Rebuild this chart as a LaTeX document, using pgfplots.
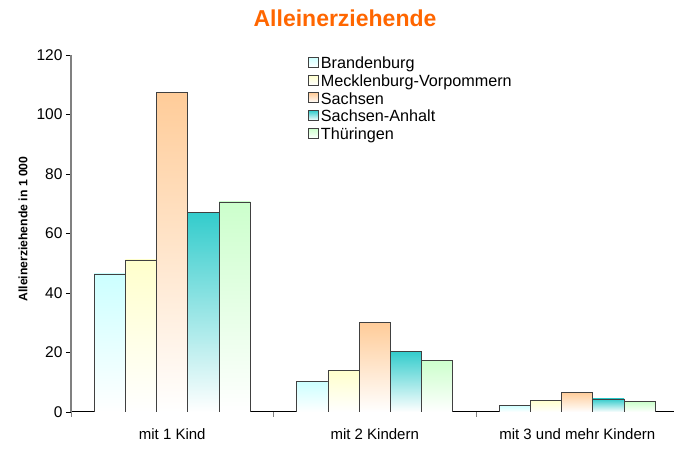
\documentclass[border=0pt]{standalone}
\usepackage{pgfplots}
\pgfplotsset{compat=1.18}
\usepackage{fontspec}
\setmainfont{Liberation Sans}
\definecolor{cBra}{HTML}{CCFFFF}
\definecolor{cMV}{HTML}{FFFFCC}
\definecolor{cSN}{HTML}{FFCC99}
\definecolor{cST}{HTML}{33CCCC}
\definecolor{cTH}{HTML}{CCFFCC}
\definecolor{cTitle}{HTML}{FF6600}
\pgfplotsset{
  sBra/.style={ybar, bar shift=-0.3082, top color=cBra, bottom color=white},
  sMV/.style={ybar, bar shift=-0.1541, top color=cMV, bottom color=white},
  sSN/.style={ybar, bar shift=0, top color=cSN, bottom color=white},
  sST/.style={ybar, bar shift=0.1541, top color=cST, bottom color=white},
  sTH/.style={ybar, bar shift=0.3082, top color=cTH, bottom color=white},
}
\begin{document}
\begin{tikzpicture}
\useasboundingbox (0,0) rectangle (674pt,452pt);
\begin{axis}[
  at={(71pt,40pt)}, anchor=south west,
  scale only axis, width=603pt, height=357pt,
  xmin=-0.5, xmax=2.4778, ymin=0, ymax=120,
  bar width=0.1541,
  ytick={0,20,...,120},
  xtick={0,1,2},
  xticklabels={mit 1 Kind, mit 2 Kindern, mit 3 und mehr Kindern},
  minor xtick={-0.5,0.5,1.5},
  major x tick style={draw=none},
  minor x tick style={gray, line width=1pt},
  y tick style={black, line width=0.8pt},
  tick align=outside,
  major tick length=5pt, minor tick length=5pt,
  axis x line*=bottom, axis y line*=left,
  x axis line style={-, black, line width=1pt},
  y axis line style={-, gray, line width=1.3pt},
  /pgf/number format/assume math mode=true,
  yticklabel style={font=\fontsize{15.5}{18}\selectfont, anchor=east},
  xticklabel style={font=\fontsize{15}{18}\selectfont, anchor=base, yshift=-22pt},
  title={Alleinerziehende},
  title style={at={(axis description cs:0.4544,1.0644)}, anchor=base, font=\fontsize{23}{26}\selectfont\bfseries, text=cTitle},
  ylabel={Alleinerziehende in 1 000},
  ylabel style={at={(axis description cs:-0.0796,0.5126)}, anchor=center, rotate=0, font=\fontsize{12.2}{14}\selectfont\bfseries},
  legend cell align=left,
  legend style={at={(axis description cs:0.3922,0.9978)}, anchor=north west, draw=none, fill=none,
    inner sep=0pt, row sep=1.3pt, font=\fontsize{16.2}{18}\selectfont,
    nodes={inner sep=0.5pt, text height=12pt, text depth=3.5pt},
    /tikz/every odd column/.append style={column sep=1.5pt}},
  legend image code/.code={\draw[#1, line width=0.7pt] (0pt,-3pt) rectangle (10.5pt,7pt);},
  every axis plot/.append style={draw=black!75, line width=0.8pt},
]
\addplot[sBra] coordinates {(0,46.4)};
\addplot[sBra, forget plot] coordinates {(1,10.3)};
\addplot[sBra, forget plot] coordinates {(2,2.3)};
\addplot[sMV] coordinates {(0,51.1)};
\addplot[sMV, forget plot] coordinates {(1,14.0)};
\addplot[sMV, forget plot] coordinates {(2,4.0)};
\addplot[sSN] coordinates {(0,107.4)};
\addplot[sSN, forget plot] coordinates {(1,30.1)};
\addplot[sSN, forget plot] coordinates {(2,6.7)};
\addplot[sST] coordinates {(0,67.1)};
\addplot[sST, forget plot] coordinates {(1,20.4)};
\addplot[sST, forget plot] coordinates {(2,4.4)};
\addplot[sTH] coordinates {(0,70.6)};
\addplot[sTH, forget plot] coordinates {(1,17.4)};
\addplot[sTH, forget plot] coordinates {(2,3.4)};
\legend{Brandenburg, Mecklenburg-Vorpommern, Sachsen, Sachsen-Anhalt, Thüringen}
\end{axis}
\end{tikzpicture}
\end{document}
